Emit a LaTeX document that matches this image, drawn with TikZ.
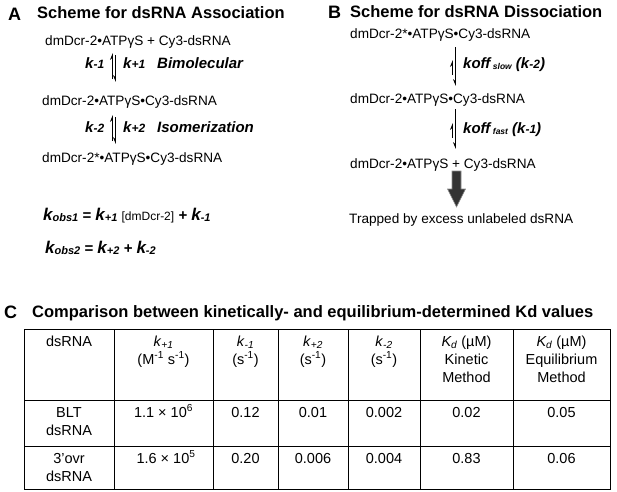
\documentclass[tikz,border=0pt]{standalone}
\usepackage{fontspec}
\setmainfont{Liberation Sans}
\usetikzlibrary{arrows.meta}
\newcommand\klab[1]{\textit{k}{\fontsize{12}{12}\selectfont\raisebox{-0.8pt}{\textit{#1}}}}
\newcommand\kbig[1]{{\fontsize{17}{17}\selectfont\textit{k}}{\fontsize{11}{11}\selectfont\raisebox{-1pt}{\textit{#1}}}}
\newcommand\ksub[1]{\textit{k}\textsubscript{\textit{#1}}}
\newcommand\koffsub[1]{\textit{koff}\,{\fontsize{8.5}{8.5}\selectfont\raisebox{-1.5pt}{\textit{#1}}}}
\begin{document}
\begin{tikzpicture}[x=1pt,y=-1pt,
  txt/.style={anchor=base west, inner sep=0pt, font=\fontsize{13.6}{16}\selectfont},
  ttl/.style={anchor=base west, inner sep=0pt, font=\fontsize{16.5}{20}\selectfont\bfseries},
  lett/.style={anchor=base west, inner sep=0pt, font=\fontsize{18}{20}\selectfont\bfseries},
  lbl/.style={anchor=base west, inner sep=0pt, font=\fontsize{15}{18}\selectfont\bfseries\itshape},
  eqn/.style={anchor=base west, inner sep=0pt, font=\fontsize{15}{18}\selectfont\bfseries\itshape},
  cell/.style={anchor=base, inner sep=0pt, font=\fontsize{14.5}{17}\selectfont},
  hup/.style={line width=0.7pt, -{Stealth[left,length=6pt,width=5pt]}},
  hdn/.style={line width=0.7pt, -{Stealth[right,length=6pt,width=5pt]}},
  grid/.style={line width=0.9pt},
  bigarrow/.style={fill=black!80, draw=black!45, line width=0.6pt}
]
\useasboundingbox (0,0) rectangle (617,491);

% ---------- Panel A ----------
\node[lett] (LA) at (8,20) {A};
\node[ttl] (TA) at (37,18.5) {Scheme for dsRNA Association};
\node[txt] (A1) at (45,45) {dmDcr-2•ATPγS + Cy3-dsRNA};
\node[txt] (A2) at (42,105) {dmDcr-2•ATPγS•Cy3-dsRNA};
\node[txt] (A3) at (42,162) {dmDcr-2*•ATPγS•Cy3-dsRNA};

\coordinate (a1s) at (112.5,79);
\coordinate (a1e) at (112.5,53);
\coordinate (a1t) at (115.5,55);
\coordinate (a1b) at (115.5,82);
\draw[hup] (a1s) -- (a1e);
\draw[hdn] (a1t) -- (a1b);
\coordinate (a2s) at (112.5,141);
\coordinate (a2e) at (112.5,115);
\coordinate (a2t) at (115.5,117);
\coordinate (a2b) at (115.5,144);
\draw[hup] (a2s) -- (a2e);
\draw[hdn] (a2t) -- (a2b);

\node[lbl] (km1) at (85,68) {\klab{-1}};
\node[lbl] (kp1) at (123,68) {\klab{+1}};
\node[lbl] (bim) at (157,68) {Bimolecular};
\node[lbl] (km2) at (85,132) {\klab{-2}};
\node[lbl] (kp2) at (123,132) {\klab{+2}};
\node[lbl] (iso) at (157,132) {Isomerization};

\node[eqn] (ko1) at (43,220) {\kbig{obs1} = \kbig{+1} {\upshape\fontsize{12}{12}\selectfont\mdseries [dmDcr-2]} + \kbig{-1}};
\node[eqn] (ko2) at (45,253) {\kbig{obs2} = \kbig{+2} + \kbig{-2}};

% ---------- Panel B ----------
\node[lett] (LB) at (328,18.3) {B};
\node[ttl] (TB) at (350,17) {Scheme for dsRNA Dissociation};
\node[txt] (B1) at (350,38) {dmDcr-2*•ATPγS•Cy3-dsRNA};
\node[txt] (B2) at (350,103) {dmDcr-2•ATPγS•Cy3-dsRNA};
\node[txt] (B3) at (350,168) {dmDcr-2•ATPγS + Cy3-dsRNA};

\coordinate (b1t) at (455.5,47);
\coordinate (b1b) at (455.5,86);
\coordinate (b1s) at (452.5,75);
\coordinate (b1e) at (452.5,60);
\draw[hdn] (b1t) -- (b1b);
\draw[hup] (b1s) -- (b1e);
\coordinate (b2t) at (455.5,109);
\coordinate (b2b) at (455.5,149);
\coordinate (b2s) at (452.5,138);
\coordinate (b2e) at (452.5,123);
\draw[hdn] (b2t) -- (b2b);
\draw[hup] (b2s) -- (b2e);

\node[lbl] (koffs) at (463,68) {\koffsub{slow} (\klab{-2})};
\node[lbl] (kofff) at (463,133) {\koffsub{fast} (\klab{-1})};

\draw[bigarrow] (452,171) -- (461,171) -- (461,189) -- (465.5,189) -- (456.5,207) -- (447.5,189) -- (452,189) -- cycle;
\node[txt] (trap) at (349,223) {Trapped by excess unlabeled dsRNA};

% ---------- Panel C ----------
\node[lett] (LC) at (4,318) {C};
\node[ttl] (TC) at (32,317) {Comparison between kinetically- and equilibrium-determined Kd values};

\draw[grid] (24,329) rectangle (610,489);
\foreach \x in {114,213,278,348,420,513} \draw[grid] (\x,329) -- (\x,489);
\draw[grid] (24,400) -- (610,400);
\draw[grid] (24,446) -- (610,446);

\node[cell] (h1) at (69,346) {dsRNA};
\node[cell] (h2a) at (163.5,346) {\ksub{+1}};
\node[cell] (h2b) at (163.5,364) {(M\textsuperscript{-1} s\textsuperscript{-1})};
\node[cell] (h3a) at (245.5,346) {\ksub{-1}};
\node[cell] (h3b) at (245.5,364) {(s\textsuperscript{-1})};
\node[cell] (h4a) at (313,346) {\ksub{+2}};
\node[cell] (h4b) at (313,364) {(s\textsuperscript{-1})};
\node[cell] (h5a) at (384,346) {\ksub{-2}};
\node[cell] (h5b) at (384,364) {(s\textsuperscript{-1})};
\node[cell] (h6a) at (466.5,346) {\textit{K\textsubscript{d}} (µM)};
\node[cell] (h6b) at (466.5,364) {Kinetic};
\node[cell] (h6c) at (466.5,382) {Method};
\node[cell] (h7a) at (561.5,346) {\textit{K\textsubscript{d}} (µM)};
\node[cell] (h7b) at (561.5,364) {Equilibrium};
\node[cell] (h7c) at (561.5,382) {Method};

\node[cell] (r1a) at (69,417) {BLT};
\node[cell] (r1b) at (69,435) {dsRNA};
\node[cell] (r1c) at (163.5,417) {1.1 × 10\textsuperscript{6}};
\node[cell] (r1d) at (245.5,417) {0.12};
\node[cell] (r1e) at (313,417) {0.01};
\node[cell] (r1f) at (384,417) {0.002};
\node[cell] (r1g) at (466.5,417) {0.02};
\node[cell] (r1h) at (561.5,417) {0.05};

\node[cell] (r2a) at (69,463) {3'ovr};
\node[cell] (r2b) at (69,481) {dsRNA};
\node[cell] (r2c) at (166,463) {1.6 × 10\textsuperscript{5}};
\node[cell] (r2d) at (245.5,463) {0.20};
\node[cell] (r2e) at (313,463) {0.006};
\node[cell] (r2f) at (384,463) {0.004};
\node[cell] (r2g) at (466.5,463) {0.83};
\node[cell] (r2h) at (561.5,463) {0.06};
\end{tikzpicture}
\end{document}
